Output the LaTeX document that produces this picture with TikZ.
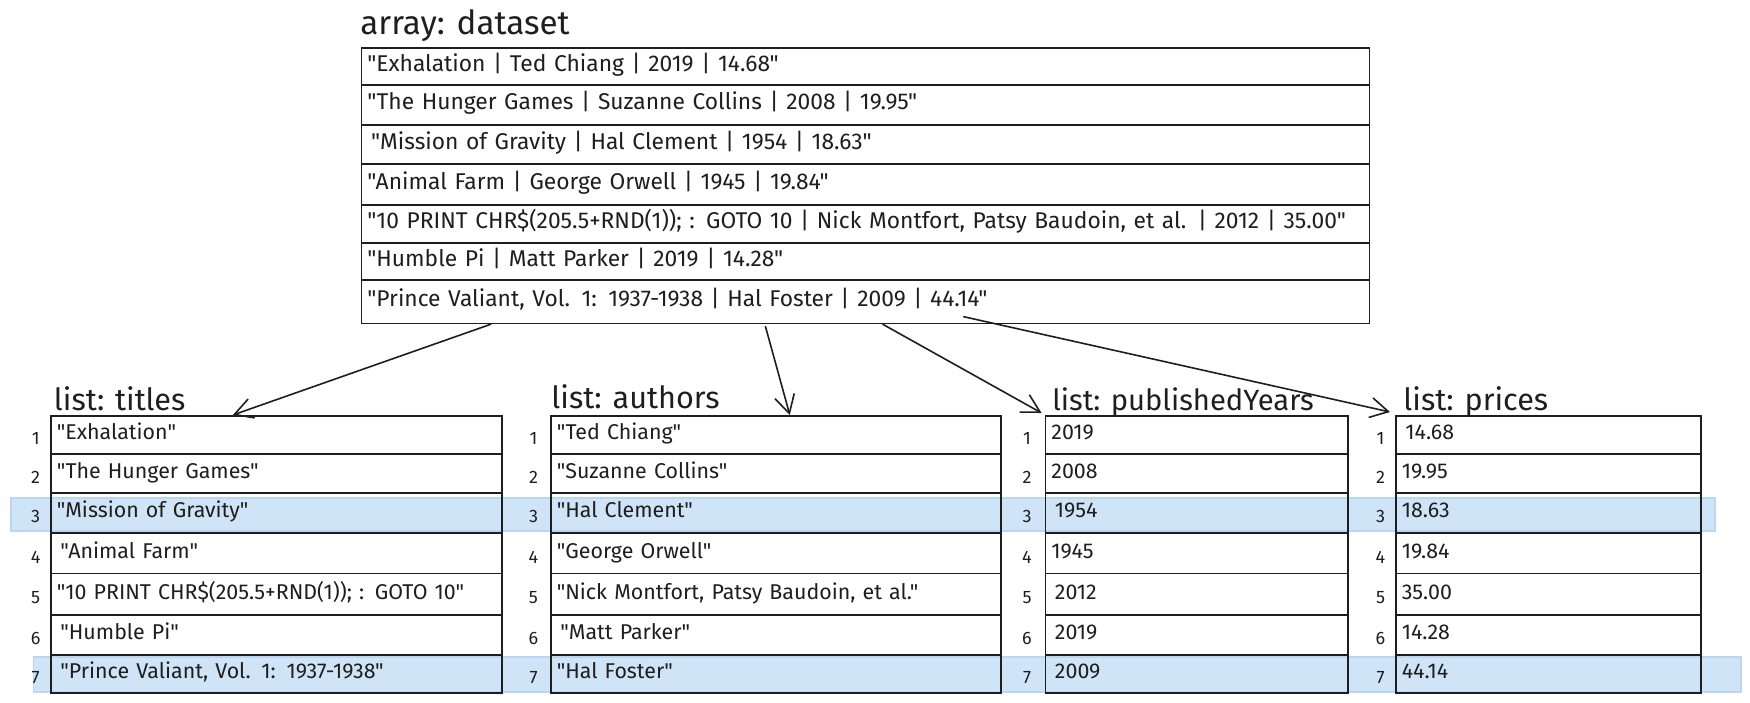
\documentclass[tikz,border=0pt]{standalone}
\usepackage{fontspec}
\setmainfont{Fira Sans}[Ligatures=TeXOff]
\usetikzlibrary{arrows.meta,calc}
\definecolor{ink}{HTML}{1E1E1E}
\definecolor{band}{HTML}{D0E4F7}
\definecolor{bandedge}{HTML}{BBD6F2}
\newcommand\crow[6]{\node[cell, text width=#4, minimum height=#5] (#1) at (#2,#3) {#6};}
\begin{document}
\begin{tikzpicture}[x=0.5pt,y=-0.5pt,
  cell/.style={draw=ink, line width=0.8pt, rectangle, anchor=north west, inner xsep=3pt, inner ysep=0pt, align=left, text height=7.5pt, text depth=2.5pt, text=ink},
  dsrow/.style={cell, font=\fontsize{11.4}{13}\selectfont},
  lrow/.style={cell, font=\fontsize{10.7}{12}\selectfont},
  idx/.style={font=\fontsize{9}{10}\selectfont, text=ink, inner sep=0pt},
  ttl/.style={anchor=base west, inner sep=0pt, text=ink, font=\fontsize{15.3}{17}\selectfont},
  arr/.style={draw=ink, line width=0.8pt, -{Straight Barb[length=9pt,width=10pt]}},
  hl/.style={fill=band, draw=bandedge, line width=0.6pt}]
\useasboundingbox (0,0) rectangle (1750,702);
% highlight bands
\path[hl] (11,498) rectangle (1715,531);
\path[hl] (33.5,657) rectangle (1741,692);

% dataset
\node[ttl, font=\fontsize{16.6}{18}\selectfont] (dst) at (360,34.5) {array: dataset};
\begin{scope}[every node/.style={dsrow}]
\crow{ds1}{360.5}{47}{498pt}{18.5pt}{"Exhalation | Ted Chiang | 2019 | 14.68"}
\crow{ds2}{360.5}{84}{498pt}{20pt}{"The Hunger Games | Suzanne Collins | 2008 | 19.95"}
\crow{ds3}{360.5}{124}{498pt}{19.5pt}{\,"Mission of Gravity | Hal Clement | 1954 | 18.63"}
\crow{ds4}{360.5}{163}{498pt}{20.5pt}{"Animal Farm | George Orwell | 1945 | 19.84"}
\crow{ds5}{360.5}{204}{498pt}{19pt}{"10 PRINT CHR\$(205.5+RND(1)); : GOTO 10 | Nick Montfort, Patsy Baudoin, et al. | 2012 | 35.00"}
\crow{ds6}{360.5}{242}{498pt}{18.5pt}{"Humble Pi | Matt Parker | 2019 | 14.28"}
\crow{ds7}{360.5}{279}{498pt}{21.75pt}{"Prince Valiant, Vol. 1: 1937-1938 | Hal Foster | 2009 | 44.14"}
\end{scope}

% titles
\node[ttl] (tt) at (53.6,410.7) {list: titles};
\begin{scope}[every node/.style={lrow}]
\crow{t1}{50}{415}{219.5pt}{19pt}{"Exhalation"}
\crow{t2}{50}{453}{219.5pt}{19.5pt}{"The Hunger Games"}
\crow{t3}{50}{492}{219.5pt}{20pt}{"Mission of Gravity"}
\crow{t4}{50}{532}{219.5pt}{20.25pt}{\,"Animal Farm"}
\crow{t5}{50}{572.5}{219.5pt}{20.75pt}{"10 PRINT CHR\$(205.5+RND(1)); : GOTO 10"}
\crow{t6}{50}{614}{219.5pt}{20pt}{\,"Humble Pi"}
\crow{t7}{50}{654}{219.5pt}{19pt}{\,"Prince Valiant, Vol. 1: 1937-1938"}
\end{scope}

% authors
\node[ttl] (at) at (551,408.5) {list: authors};
\begin{scope}[every node/.style={lrow}]
\crow{a1}{550}{415}{219pt}{19pt}{"Ted Chiang"}
\crow{a2}{550}{453}{219pt}{19.5pt}{"Suzanne Collins"}
\crow{a3}{550}{492}{219pt}{20pt}{"Hal Clement"}
\crow{a4}{550}{532}{219pt}{20.25pt}{"George Orwell"}
\crow{a5}{550}{572.5}{219pt}{20.75pt}{"Nick Montfort, Patsy Baudoin, et al."}
\crow{a6}{550}{614}{219pt}{20pt}{\,"Matt Parker"}
\crow{a7}{550}{654}{219pt}{19pt}{"Hal Foster"}
\end{scope}

% published years
\node[ttl, font=\fontsize{14.6}{16}\selectfont] (yt) at (1052,410.7) {list: publishedYears};
\begin{scope}[every node/.style={lrow}]
\crow{y1}{1044.6}{415}{145.2pt}{19pt}{2019}
\crow{y2}{1044.6}{453}{145.2pt}{19.5pt}{2008}
\crow{y3}{1044.6}{492}{145.2pt}{20pt}{\,1954}
\crow{y4}{1044.6}{532}{145.2pt}{20.25pt}{1945}
\crow{y5}{1044.6}{572.5}{145.2pt}{20.75pt}{\,2012}
\crow{y6}{1044.6}{614}{145.2pt}{20pt}{\,2019}
\crow{y7}{1044.6}{654}{145.2pt}{19pt}{\,2009}
\end{scope}

% prices
\node[ttl] (pt) at (1403,410.7) {list: prices};
\begin{scope}[every node/.style={lrow}]
\crow{p1}{1395}{415}{146.5pt}{19pt}{\,14.68}
\crow{p2}{1395}{453}{146.5pt}{19.5pt}{19.95}
\crow{p3}{1395}{492}{146.5pt}{20pt}{18.63}
\crow{p4}{1395}{532}{146.5pt}{20.25pt}{19.84}
\crow{p5}{1395}{572.5}{146.5pt}{20.75pt}{35.00}
\crow{p6}{1395}{614}{146.5pt}{20pt}{14.28}
\crow{p7}{1395}{654}{146.5pt}{19pt}{44.14}
\end{scope}

% index numbers
\foreach \L/\x in {t/35.7, a/533.5, y/1027, p/1380.5}{
  \coordinate (cx) at (\x,0);
  \foreach \i in {1,...,7}{
    \node[idx] (\L n\i) at ($(\L\i.west -| cx)+(0,4)$) {\i};
  }
}

% arrows
\draw[arr] ($(ds7.south west)!0.1295!(ds7.south east)$) -- ($(t1.north west)!0.404!(t1.north east)$);
\draw[arr] ($(ds7.south west)!0.401!(ds7.south east)+(0,2)$) -- ($(a1.north west)!0.531!(a1.north east)$);
\draw[arr] ($(ds7.south west)!0.517!(ds7.south east)$) -- ($(y1.north west)+(-3,-2)$);
\draw[arr] ($(ds7.south west)!0.597!(ds7.south east)+(0,-7.5)$) -- ($(p1.north west)+(-5,-3)$);
\end{tikzpicture}
\end{document}
